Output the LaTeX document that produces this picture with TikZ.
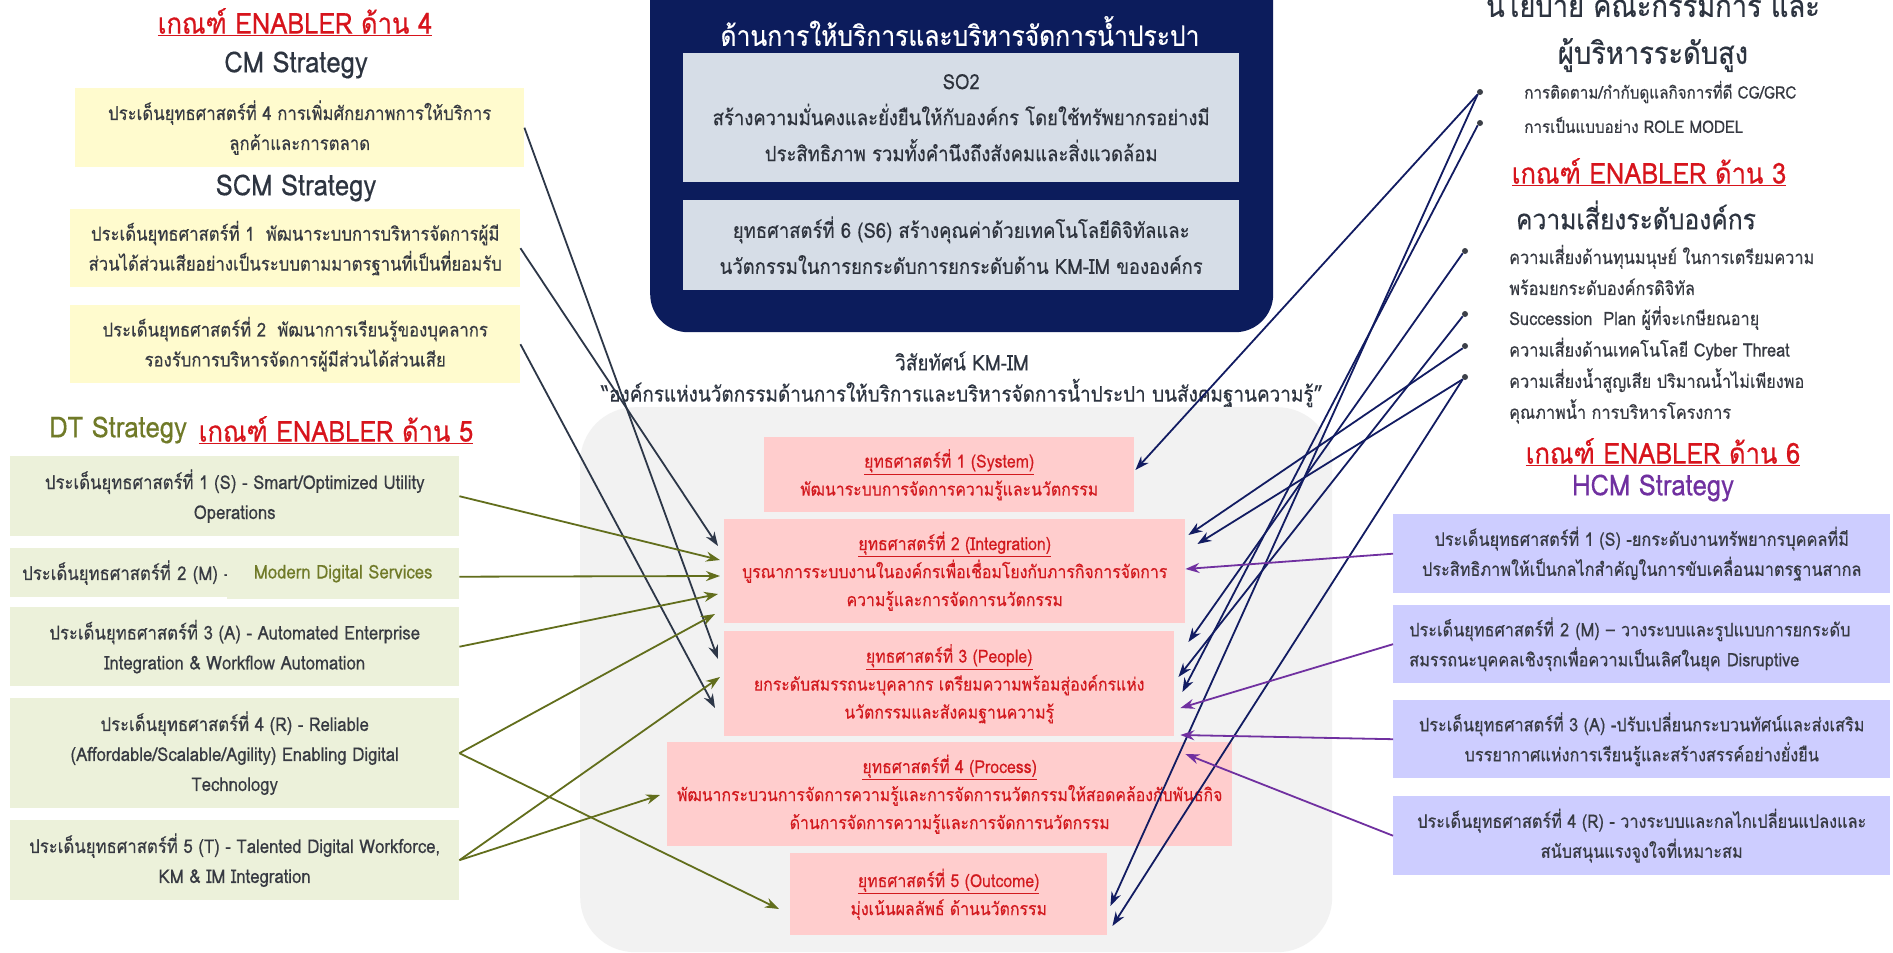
\documentclass[tikz,border=0pt]{standalone}
\usepackage{fontspec}
\setmainfont{Loma}[Script=Thai, FakeStretch=0.88, FakeBold=0.4]
\usetikzlibrary{arrows.meta,calc}

\definecolor{navyfill}{RGB}{12,28,92}
\definecolor{sofill}{RGB}{214,221,231}
\definecolor{sotext}{RGB}{45,50,60}
\definecolor{grayfill}{RGB}{242,242,242}
\definecolor{yelfill}{RGB}{255,251,206}
\definecolor{greenfill}{RGB}{236,241,218}
\definecolor{pinkfill}{RGB}{255,205,205}
\definecolor{pinktext}{RGB}{210,25,30}
\definecolor{hcmfill}{RGB}{205,205,255}
\definecolor{boxtext}{RGB}{55,58,66}
\definecolor{enablerred}{RGB}{215,20,28}
\definecolor{strattext}{RGB}{45,52,64}
\definecolor{olivetext}{RGB}{112,122,40}
\definecolor{hcmtext}{RGB}{112,48,160}
\definecolor{dotgray}{RGB}{60,64,72}
\definecolor{slateline}{RGB}{45,55,72}
\definecolor{oliveline}{RGB}{98,110,28}
\definecolor{navyline}{RGB}{18,28,98}
\definecolor{hcmline}{RGB}{112,48,160}

\newcommand{\boxfont}{\fontsize{19}{30}\selectfont}
\newcommand{\hcmfont}{\fontsize{18.5}{30}\selectfont}
\newcommand{\pinkfont}{\fontsize{18}{28}\selectfont}
\newcommand{\sofont}{\fontsize{21}{36}\selectfont}
\newcommand{\visionfont}{\fontsize{21.5}{30}\selectfont}
\newcommand{\itemfont}{\fontsize{17.3}{30}\selectfont}
\newcommand{\listfont}{\fontsize{18.5}{31}\selectfont}
\newcommand{\enablerfont}{\fontsize{29}{32}\selectfont}
\newcommand{\stratfont}{\fontsize{29}{32}\selectfont}
\newcommand{\headfont}{\fontsize{28}{32}\selectfont}
\newcommand{\policyfont}{\fontsize{31}{34}\selectfont}

\tikzstyle{kmbox} = [rectangle, anchor=north west, fill=grayfill, rounded corners=55pt, inner sep=0pt]
\tikzstyle{navybox} = [rectangle, anchor=north west, fill=navyfill, rounded corners=38pt, inner sep=0pt]
\tikzstyle{sobox} = [rectangle, anchor=north west, fill=sofill, inner sep=0pt, align=center, text=sotext, font=\sofont]
\tikzstyle{yelbox} = [rectangle, anchor=north west, fill=yelfill, inner sep=0pt, align=center, text=boxtext, font=\boxfont]
\tikzstyle{greenbox} = [rectangle, anchor=north west, fill=greenfill, inner sep=0pt, align=center, text=boxtext, font=\boxfont]
\tikzstyle{pinkbox} = [rectangle, anchor=north west, fill=pinkfill, inner sep=0pt, align=center, text=pinktext, font=\pinkfont]
\tikzstyle{hcmbox} = [rectangle, anchor=north west, fill=hcmfill, inner sep=0pt, align=center, text=boxtext, font=\hcmfont]
\tikzstyle{enabler} = [text=enablerred, font=\enablerfont, inner sep=0pt]
\tikzstyle{strategy} = [text=strattext, font=\stratfont, inner sep=0pt]
\tikzstyle{riskitem} = [anchor=west, align=left, text=boxtext, font=\listfont, inner sep=0pt]
\tikzstyle{dotnode} = [circle, fill=dotgray, minimum size=6pt, inner sep=0pt]
\tikzstyle{arrow} = [line width=1.8pt,->,>={Stealth[length=14pt,width=10pt]}]
\tikzstyle{slatearrow} = [arrow, draw=slateline]
\tikzstyle{olivearrow} = [arrow, draw=oliveline]
\tikzstyle{navyarrow} = [arrow, draw=navyline]
\tikzstyle{hcmarrow} = [arrow, draw=hcmline]

\begin{document}
\begin{tikzpicture}[x=1pt, y=-1pt]
        \clip (0,0) rectangle (1893,953);
        \fill [white] (0,0) rectangle (1893,953);

        % centre: SO2 block and KM-IM area
        \node (navy) [navybox, minimum width=623pt, minimum height=392pt] at (650,-60) {};
        \node (navyhead) [text=white, font=\headfont] at (960,31) {ด้านการให้บริการและบริหารจัดการน้ำประปา};
        \node (sotwo) [sobox, minimum width=556pt, minimum height=129pt] at (683,53) {SO2\\สร้างความมั่นคงและยั่งยืนให้กับองค์กร โดยใช้ทรัพยากรอย่างมี\\ประสิทธิภาพ รวมทั้งคำนึงถึงสังคมและสิ่งแวดล้อม};
        \node (sosix) [sobox, minimum width=556pt, minimum height=90pt] at (683,200) {ยุทธศาสตร์ที่ 6 (S6) สร้างคุณค่าด้วยเทคโนโลยีดิจิทัลและ\\นวัตกรรมในการยกระดับการยกระดับด้าน KM-IM ขององค์กร};

        \node (visionhead) [text=strattext, font=\visionfont] at (962,361) {วิสัยทัศน์ KM-IM};
        \node (visionquote) [text=strattext, font=\visionfont] at (962,393) {“องค์กรแห่งนวัตกรรมด้านการให้บริการและบริหารจัดการน้ำประปา บนสังคมฐานความรู้”};

        \node (kmarea) [kmbox, minimum width=752pt, minimum height=545pt] at (580,407) {};
        \node (pone) [pinkbox, minimum width=370pt, minimum height=75pt] at (764,437) {\underline{ยุทธศาสตร์ที่ 1 (System)}\\พัฒนาระบบการจัดการความรู้และนวัตกรรม};
        \node (ptwo) [pinkbox, minimum width=461pt, minimum height=104pt] at (724,519) {\underline{ยุทธศาสตร์ที่ 2 (Integration)}\\บูรณาการระบบงานในองค์กรเพื่อเชื่อมโยงกับภารกิจการจัดการ\\ความรู้และการจัดการนวัตกรรม};
        \node (pthree) [pinkbox, minimum width=450pt, minimum height=105pt] at (724,631) {\underline{ยุทธศาสตร์ที่ 3 (People)}\\ยกระดับสมรรถนะบุคลากร เตรียมความพร้อมสู่องค์กรแห่ง\\นวัตกรรมและสังคมฐานความรู้};
        \node (pfour) [pinkbox, minimum width=565pt, minimum height=104pt] at (667,742) {\underline{ยุทธศาสตร์ที่ 4 (Process)}\\พัฒนากระบวนการจัดการความรู้และการจัดการนวัตกรรมให้สอดคล้องกับพันธกิจ\\ด้านการจัดการความรู้และการจัดการนวัตกรรม};
        \node (pfive) [pinkbox, minimum width=317pt, minimum height=82pt] at (790,853) {\underline{ยุทธศาสตร์ที่ 5 (Outcome)}\\มุ่งเน้นผลลัพธ์ ด้านนวัตกรรม};

        % left: CM / SCM
        \node (titlefour) [enabler] at (295,22) {\underline{เกณฑ์ ENABLER ด้าน 4}};
        \node (cmtitle) [strategy] at (296,65) {CM Strategy};
        \node (cmone) [yelbox, minimum width=449pt, minimum height=79pt] at (75,88) {ประเด็นยุทธศาสตร์ที่ 4 การเพิ่มศักยภาพการให้บริการ\\ลูกค้าและการตลาด};
        \node (scmtitle) [strategy] at (296,188) {SCM Strategy};
        \node (scmone) [yelbox, minimum width=450pt, minimum height=78pt] at (70,209) {ประเด็นยุทธศาสตร์ที่ 1 \ พัฒนาระบบการบริหารจัดการผู้มี\\ส่วนได้ส่วนเสียอย่างเป็นระบบตามมาตรฐานที่เป็นที่ยอมรับ};
        \node (scmtwo) [yelbox, minimum width=450pt, minimum height=78pt] at (70,305) {ประเด็นยุทธศาสตร์ที่ 2 \ พัฒนาการเรียนรู้ของบุคลากร\\รองรับการบริหารจัดการผู้มีส่วนได้ส่วนเสีย};

        % left: DT
        \node (dttitle) [strategy, text=olivetext] at (118,430) {DT Strategy};
        \node (titlefive) [enabler] at (336,430) {\underline{เกณฑ์ ENABLER ด้าน 5}};
        \node (dtone) [greenbox, minimum width=449pt, minimum height=80pt] at (10,456) {ประเด็นยุทธศาสตร์ที่ 1 (S) - Smart/Optimized Utility\\Operations};
        \node (dttwo) [greenbox, minimum width=449pt, minimum height=49pt, align=left, text width=425pt, inner xsep=12pt] at (10,548) {ประเด็นยุทธศาสตร์ที่ 2 (M) -};
        \node (dtmds) [greenbox, minimum width=232pt, minimum height=51pt, text=olivetext] at (227,548) {Modern Digital Services};
        \node (dtthree) [greenbox, minimum width=449pt, minimum height=79pt] at (10,607) {ประเด็นยุทธศาสตร์ที่ 3 (A) - Automated Enterprise\\Integration \& Workflow Automation};
        \node (dtfour) [greenbox, minimum width=449pt, minimum height=110pt] at (10,698) {ประเด็นยุทธศาสตร์ที่ 4 (R) - Reliable\\(Affordable/Scalable/Agility) Enabling Digital\\Technology};
        \node (dtfive) [greenbox, minimum width=449pt, minimum height=80pt] at (10,820) {ประเด็นยุทธศาสตร์ที่ 5 (T) - Talented Digital Workforce,\\KM \& IM Integration};

        % right: policy and risks
        \node (policyhead) [strategy, font=\policyfont] at (1653,3) {นโยบาย คณะกรรมการ และ};
        \node (policysub) [strategy, font=\policyfont] at (1653,55) {ผู้บริหารระดับสูง};
        \node (bone) [dotnode] at (1480,92) {};
        \node (btwo) [dotnode] at (1480,123) {};
        \node (itemone) [riskitem, font=\itemfont] at (1524,92) {การติดตาม/กำกับดูแลกิจการที่ดี CG/GRC};
        \node (itemtwo) [riskitem, font=\itemfont] at (1524,125) {การเป็นแบบอย่าง ROLE MODEL};
        \node (titlethree) [enabler] at (1649,172) {\underline{เกณฑ์ ENABLER ด้าน 3}};
        \node (risktitle) [strategy, font=\headfont] at (1636,215) {ความเสี่ยงระดับองค์กร};
        \node (rone) [dotnode] at (1465,251) {};
        \node (rtwo) [dotnode] at (1465,314) {};
        \node (rthree) [dotnode] at (1465,346) {};
        \node (rfour) [dotnode] at (1465,377) {};
        \node (riskone) [riskitem] at (1509,270) {ความเสี่ยงด้านทุนมนุษย์ ในการเตรียมความ\\พร้อมยกระดับองค์กรดิจิทัล};
        \node (risktwo) [riskitem] at (1509,318) {Succession \ Plan ผู้ที่จะเกษียณอายุ};
        \node (riskthree) [riskitem] at (1509,349) {ความเสี่ยงด้านเทคโนโลยี Cyber Threat};
        \node (riskfour) [riskitem] at (1509,396) {ความเสี่ยงน้ำสูญเสีย ปริมาณน้ำไม่เพียงพอ\\คุณภาพน้ำ การบริหารโครงการ};

        % right: HCM
        \node (titlesix) [enabler] at (1663,452) {\underline{เกณฑ์ ENABLER ด้าน 6}};
        \node (hcmtitle) [strategy, text=hcmtext] at (1653,488) {HCM Strategy};
        \node (hone) [hcmbox, minimum width=497pt, minimum height=79pt] at (1393,514) {ประเด็นยุทธศาสตร์ที่ 1 (S) -ยกระดับงานทรัพยากรบุคคลที่มี\\ประสิทธิภาพให้เป็นกลไกสำคัญในการขับเคลื่อนมาตรฐานสากล};
        \node (htwo) [hcmbox, minimum width=497pt, minimum height=78pt, align=left, text width=465pt, inner xsep=16pt] at (1393,605) {ประเด็นยุทธศาสตร์ที่ 2 (M) – วางระบบและรูปแบบการยกระดับ\\สมรรถนะบุคคลเชิงรุกเพื่อความเป็นเลิศในยุค Disruptive};
        \node (hthree) [hcmbox, minimum width=497pt, minimum height=78pt] at (1393,700) {ประเด็นยุทธศาสตร์ที่ 3 (A) -ปรับเปลี่ยนกระบวนทัศน์และส่งเสริม\\บรรยากาศแห่งการเรียนรู้และสร้างสรรค์อย่างยั่งยืน};
        \node (hfour) [hcmbox, minimum width=497pt, minimum height=79pt] at (1393,796) {ประเด็นยุทธศาสตร์ที่ 4 (R) - วางระบบและกลไกเปลี่ยนแปลงและ\\สนับสนุนแรงจูงใจที่เหมาะสม};

        % CM / SCM links
        \draw [slatearrow] (cmone.east) -- ($(pthree.north west)+(-6,28)$);
        \draw [slatearrow] (scmone.east) -- ($(ptwo.north west)+(-6,27)$);
        \draw [slatearrow] (scmtwo.east) -- ($(pthree.north west)+(-9,77)$);

        % DT links
        \draw [olivearrow] (dtone.east) -- ($(ptwo.north west)+(-4,41)$);
        \draw [olivearrow] ($(dtmds.east)+(0,3)$) -- ($(ptwo.north west)+(-4,57)$);
        \draw [olivearrow] (dtthree.east) -- ($(ptwo.north west)+(-6,75)$);
        \draw [olivearrow] (dtfour.east) -- ($(ptwo.north west)+(-9,95)$);
        \draw [olivearrow] (dtfour.east) -- ($(pfive.north west)+(-11,56)$);
        \draw [olivearrow] (dtfive.east) -- ($(pthree.north west)+(-4,46)$);
        \draw [olivearrow] (dtfive.east) -- ($(pfour.north west)+(-7,53)$);

        % policy and risk links
        \draw [navyarrow] (bone.south west) -- ($(pone.north east)+(1,33)$);
        \draw [navyarrow] (bone.south west) -- ($(pfive.north east)+(3,53)$);
        \draw [navyarrow] (btwo.south west) -- ($(pthree.north east)+(8,61)$);
        \draw [navyarrow] (rone.south west) -- ($(pthree.north east)+(14,11)$);
        \draw [navyarrow] (rtwo.south west) -- ($(pthree.north east)+(4,46)$);
        \draw [navyarrow] (rthree.south west) -- ($(ptwo.north east)+(3,16)$);
        \draw [navyarrow] (rfour.south west) -- ($(ptwo.north east)+(12,25)$);
        \draw [navyarrow] (rfour.south west) -- ($(pfive.north east)+(5,73)$);

        % HCM links
        \draw [hcmarrow] (hone.west) -- ($(ptwo.north east)+(0,50)$);
        \draw [hcmarrow] (htwo.west) -- ($(pthree.north east)+(6,77)$);
        \draw [hcmarrow] (hthree.west) -- ($(pthree.north east)+(6,104)$);
        \draw [hcmarrow] (hfour.west) -- ($(pfour.north east)+(-47,12)$);
\end{tikzpicture}
\end{document}
